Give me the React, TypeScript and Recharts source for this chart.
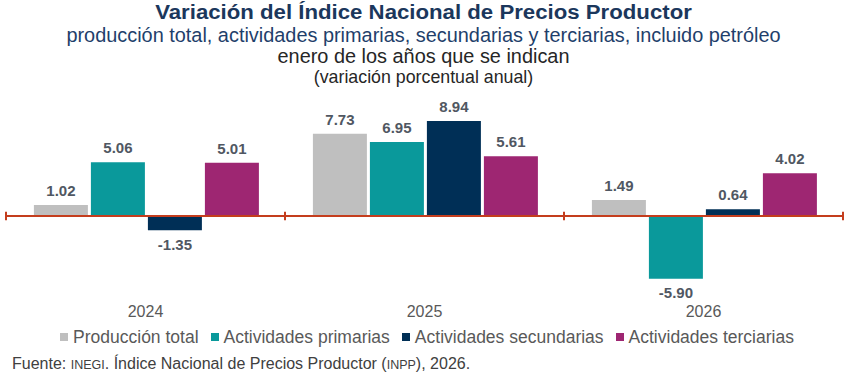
import React from 'react';
import { BarChart, Bar, XAxis, YAxis, ReferenceLine, LabelList } from 'recharts';

const years = ['2024', '2025', '2026'];
const produccionTotal = [1.02, 7.73, 1.49];
const actividadesPrimarias = [5.06, 6.95, -5.9];
const actividadesSecundarias = [-1.35, 8.94, 0.64];
const actividadesTerciarias = [5.01, 5.61, 4.02];

const seriesNames = [
  'Producción total',
  'Actividades primarias',
  'Actividades secundarias',
  'Actividades terciarias',
];
const seriesKeys = ['total', 'primarias', 'secundarias', 'terciarias'];
const seriesColors = ['#BFBFBF', '#0A999B', '#002F56', '#9E2672'];

const data = years.map((year, i) => ({
  year,
  total: produccionTotal[i],
  primarias: actividadesPrimarias[i],
  secundarias: actividadesSecundarias[i],
  terciarias: actividadesTerciarias[i],
}));

const FONT = '"Liberation Sans", Arial, sans-serif';
const AXIS_RED = '#C43D1D';

const renderValue = (props: any) => {
  const { x, y, width, height, value } = props;
  if (value === undefined || value === null) return null;
  const top = Math.min(y, y + height);
  const bottom = Math.max(y, y + height);
  const cy = value >= 0 ? top - 14.5 : bottom + 14;
  return (
    <text
      x={x + width / 2}
      y={cy}
      textAnchor="middle"
      dominantBaseline="central"
      fill="#505762"
      fontSize={15}
      fontWeight="bold"
      fontFamily={FONT}
    >
      {Number(value).toFixed(2)}
    </text>
  );
};

const App: React.FC = () => {
  return (
    <div
      style={{
        position: 'absolute',
        left: 0,
        top: 0,
        width: 847,
        height: 383,
        background: '#fff',
        fontFamily: FONT,
        overflow: 'hidden',
      }}
    >
      <div
        style={{
          position: 'absolute',
          top: 0,
          left: 0,
          width: 847,
          textAlign: 'center',
          lineHeight: '24px',
          fontSize: 20,
          fontWeight: 'bold',
          color: '#1B375C',
          transform: 'scaleX(1.11)',
          transformOrigin: '423.5px 0',
        }}
      >
        Variación del Índice Nacional de Precios Productor
      </div>
      <div style={{ position: 'absolute', top: 24, left: 0, width: 847, textAlign: 'center', lineHeight: '23px', fontSize: 19.9, color: '#1F3F6B' }}>
        producción total, actividades primarias, secundarias y terciarias, incluido petróleo
      </div>
      <div style={{ position: 'absolute', top: 45, left: 0, width: 847, textAlign: 'center', lineHeight: '23px', fontSize: 19.9, color: '#262626' }}>
        enero de los años que se indican
      </div>
      <div style={{ position: 'absolute', top: 67, left: 0, width: 847, textAlign: 'center', lineHeight: '21px', fontSize: 17.8, color: '#262626' }}>
        (variación porcentual anual)
      </div>

      <div style={{ position: 'absolute', top: 0, left: 0 }}>
        <BarChart
          width={847}
          height={383}
          data={data}
          margin={{ top: 99, right: 4, left: 6, bottom: 52 }}
          barCategoryGap="10%"
          barGap={3}
        >
          <XAxis
            dataKey="year"
            height={30}
            axisLine={false}
            tickLine={false}
            tickSize={0}
            tickMargin={5}
            tick={{ fill: '#595959', fontSize: 16, fontFamily: FONT }}
          />
          <YAxis hide domain={[-8, 11]} />
          {seriesKeys.map((key, i) => (
            <Bar key={key} dataKey={key} name={seriesNames[i]} fill={seriesColors[i]} isAnimationActive={false}>
              <LabelList dataKey={key} content={renderValue} />
            </Bar>
          ))}
          <ReferenceLine y={0} stroke={AXIS_RED} strokeWidth={2} />
          {years.map((year) => (
            <ReferenceLine
              key={year}
              segment={[{ x: year, y: -0.4 }, { x: year, y: 0.4 }]}
              position="start"
              stroke={AXIS_RED}
              strokeWidth={2}
            />
          ))}
          <ReferenceLine
            segment={[{ x: years[years.length - 1], y: -0.4 }, { x: years[years.length - 1], y: 0.4 }]}
            position="end"
            stroke={AXIS_RED}
            strokeWidth={2}
          />
        </BarChart>
      </div>

      <div
        style={{
          position: 'absolute',
          top: 327,
          left: 0,
          width: 847,
          paddingLeft: 7,
          boxSizing: 'border-box',
          display: 'flex',
          justifyContent: 'center',
          lineHeight: '20px',
          fontSize: 17.5,
          color: '#595959',
        }}
      >
        {seriesNames.map((name, i) => (
          <span key={name} style={{ display: 'inline-flex', alignItems: 'center', marginRight: i < seriesNames.length - 1 ? 12 : 0 }}>
            <span style={{ width: 8, height: 8, background: seriesColors[i], marginRight: 5, display: 'inline-block' }} />
            {name}
          </span>
        ))}
      </div>

      <div style={{ position: 'absolute', top: 354, left: 12, lineHeight: '20px', fontSize: 16, color: '#404040' }}>
        Fuente: <span style={{ fontSize: 12.5 }}>INEGI</span>. Índice Nacional de Precios Productor (<span style={{ fontSize: 12.5 }}>INPP</span>), 2026.
      </div>
    </div>
  );
};

export default App;
